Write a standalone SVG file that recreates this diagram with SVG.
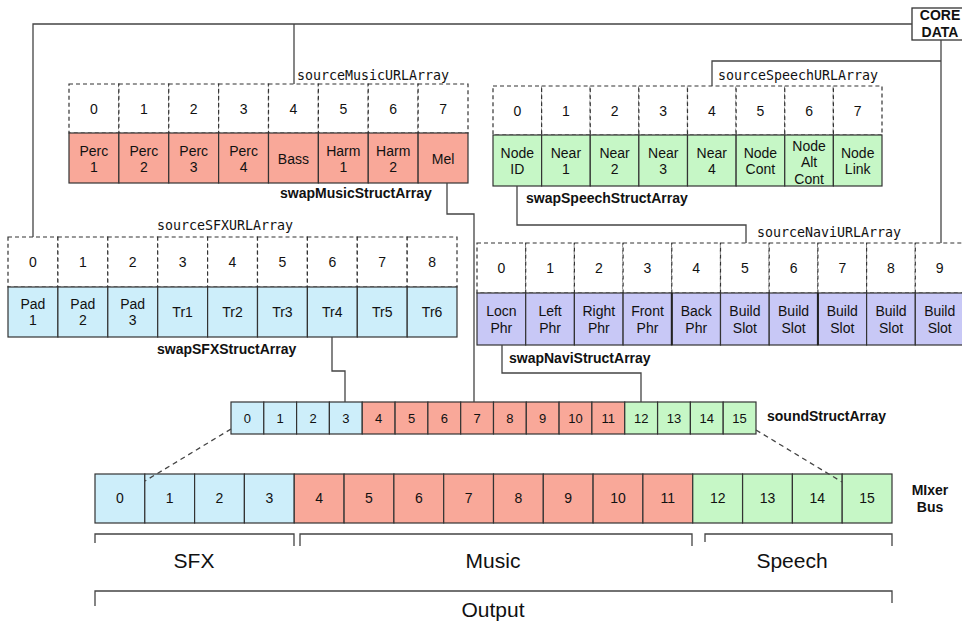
<svg xmlns="http://www.w3.org/2000/svg" width="962" height="622" viewBox="0 0 962 622">
<style>
text{font-family:"Liberation Sans",Arial,sans-serif;fill:#111;text-anchor:middle}
.c{font-size:14px}
.s{font-size:13px}
.mono{font-family:"DejaVu Sans Mono","Liberation Mono",monospace;font-size:13.3px;text-anchor:start}
.b{font-weight:bold;font-size:14px;text-anchor:start}
.big{font-size:21px}
.dash{fill:#fff;stroke:#333;stroke-width:1.2;stroke-dasharray:4 3}
.cell{stroke:#333;stroke-width:1.2}
.blue{fill:#cdeefa}
.red{fill:#f9a899}
.green{fill:#c6f7c6}
.purple{fill:#c8c8f6}
.ln{fill:none;stroke:#444;stroke-width:1.3}
</style>
<rect width="962" height="622" fill="#fff"/>

<g id="coredata">
<rect x="912" y="8" width="56" height="32" fill="#fff" stroke="#333" stroke-width="1.3"/>
<text x="940" y="20" style="font-weight:bold;font-size:14px">CORE</text>
<text x="940" y="37" style="font-weight:bold;font-size:14px">DATA</text>
</g>

<g id="sourceMusicURLArray">
<text class="mono" x="297" y="80">sourceMusicURLArray</text>
<rect class="dash" x="69" y="84" width="49.875" height="49"/>
<rect class="dash" x="118.875" y="84" width="49.875" height="49"/>
<rect class="dash" x="168.75" y="84" width="49.875" height="49"/>
<rect class="dash" x="218.625" y="84" width="49.875" height="49"/>
<rect class="dash" x="268.5" y="84" width="49.875" height="49"/>
<rect class="dash" x="318.375" y="84" width="49.875" height="49"/>
<rect class="dash" x="368.25" y="84" width="49.875" height="49"/>
<rect class="dash" x="418.125" y="84" width="49.875" height="49"/>
<text class="c" x="93.9" y="113.5">0</text>
<text class="c" x="143.8" y="113.5">1</text>
<text class="c" x="193.7" y="113.5">2</text>
<text class="c" x="243.6" y="113.5">3</text>
<text class="c" x="293.4" y="113.5">4</text>
<text class="c" x="343.3" y="113.5">5</text>
<text class="c" x="393.2" y="113.5">6</text>
<text class="c" x="443.1" y="113.5">7</text>
</g>

<g id="swapMusicStructArray">
<rect class="cell red" x="69" y="133" width="49.875" height="50"/>
<rect class="cell red" x="118.875" y="133" width="49.875" height="50"/>
<rect class="cell red" x="168.75" y="133" width="49.875" height="50"/>
<rect class="cell red" x="218.625" y="133" width="49.875" height="50"/>
<rect class="cell red" x="268.5" y="133" width="49.875" height="50"/>
<rect class="cell red" x="318.375" y="133" width="49.875" height="50"/>
<rect class="cell red" x="368.25" y="133" width="49.875" height="50"/>
<rect class="cell red" x="418.125" y="133" width="49.875" height="50"/>
<text class="c" x="93.9" y="155.5">Perc</text><text class="c" x="93.9" y="171.5">1</text>
<text class="c" x="143.8" y="155.5">Perc</text><text class="c" x="143.8" y="171.5">2</text>
<text class="c" x="193.7" y="155.5">Perc</text><text class="c" x="193.7" y="171.5">3</text>
<text class="c" x="243.6" y="155.5">Perc</text><text class="c" x="243.6" y="171.5">4</text>
<text class="c" x="293.4" y="163.5">Bass</text>
<text class="c" x="343.3" y="155.5">Harm</text><text class="c" x="343.3" y="171.5">1</text>
<text class="c" x="393.2" y="155.5">Harm</text><text class="c" x="393.2" y="171.5">2</text>
<text class="c" x="443.1" y="163.5">Mel</text>
<text class="b" x="280" y="198">swapMusicStructArray</text>
</g>

<g id="sourceSpeechURLArray">
<text class="mono" x="718" y="80">sourceSpeechURLArray</text>
<rect class="dash" x="493" y="86" width="48.625" height="49"/>
<rect class="dash" x="541.625" y="86" width="48.625" height="49"/>
<rect class="dash" x="590.25" y="86" width="48.625" height="49"/>
<rect class="dash" x="638.875" y="86" width="48.625" height="49"/>
<rect class="dash" x="687.5" y="86" width="48.625" height="49"/>
<rect class="dash" x="736.125" y="86" width="48.625" height="49"/>
<rect class="dash" x="784.75" y="86" width="48.625" height="49"/>
<rect class="dash" x="833.375" y="86" width="48.625" height="49"/>
<text class="c" x="517.3" y="115.5">0</text>
<text class="c" x="565.9" y="115.5">1</text>
<text class="c" x="614.6" y="115.5">2</text>
<text class="c" x="663.2" y="115.5">3</text>
<text class="c" x="711.8" y="115.5">4</text>
<text class="c" x="760.4" y="115.5">5</text>
<text class="c" x="809.1" y="115.5">6</text>
<text class="c" x="857.7" y="115.5">7</text>
</g>

<g id="swapSpeechStructArray">
<rect class="cell green" x="493" y="135" width="48.625" height="51"/>
<rect class="cell green" x="541.625" y="135" width="48.625" height="51"/>
<rect class="cell green" x="590.25" y="135" width="48.625" height="51"/>
<rect class="cell green" x="638.875" y="135" width="48.625" height="51"/>
<rect class="cell green" x="687.5" y="135" width="48.625" height="51"/>
<rect class="cell green" x="736.125" y="135" width="48.625" height="51"/>
<rect class="cell green" x="784.75" y="135" width="48.625" height="51"/>
<rect class="cell green" x="833.375" y="135" width="48.625" height="51"/>
<text class="c" x="517.3" y="158">Node</text><text class="c" x="517.3" y="174">ID</text>
<text class="c" x="565.9" y="158">Near</text><text class="c" x="565.9" y="174">1</text>
<text class="c" x="614.6" y="158">Near</text><text class="c" x="614.6" y="174">2</text>
<text class="c" x="663.2" y="158">Near</text><text class="c" x="663.2" y="174">3</text>
<text class="c" x="711.8" y="158">Near</text><text class="c" x="711.8" y="174">4</text>
<text class="c" x="760.4" y="158">Node</text><text class="c" x="760.4" y="174">Cont</text>
<text class="c" x="809.1" y="151">Node</text><text class="c" x="809.1" y="167">Alt</text><text class="c" x="809.1" y="184">Cont</text>
<text class="c" x="857.7" y="158">Node</text><text class="c" x="857.7" y="174">Link</text>
<text class="b" x="526" y="203">swapSpeechStructArray</text>
</g>

<g id="sourceSFXURLArray">
<text class="mono" x="157" y="230">sourceSFXURLArray</text>
<rect class="dash" x="8" y="237" width="49.9" height="50"/>
<rect class="dash" x="57.9" y="237" width="49.9" height="50"/>
<rect class="dash" x="107.8" y="237" width="49.9" height="50"/>
<rect class="dash" x="157.7" y="237" width="49.9" height="50"/>
<rect class="dash" x="207.6" y="237" width="49.9" height="50"/>
<rect class="dash" x="257.5" y="237" width="49.9" height="50"/>
<rect class="dash" x="307.4" y="237" width="49.9" height="50"/>
<rect class="dash" x="357.3" y="237" width="49.9" height="50"/>
<rect class="dash" x="407.2" y="237" width="49.8" height="50"/>
<text class="c" x="32.9" y="267">0</text>
<text class="c" x="82.8" y="267">1</text>
<text class="c" x="132.7" y="267">2</text>
<text class="c" x="182.6" y="267">3</text>
<text class="c" x="232.5" y="267">4</text>
<text class="c" x="282.4" y="267">5</text>
<text class="c" x="332.3" y="267">6</text>
<text class="c" x="382.2" y="267">7</text>
<text class="c" x="432.1" y="267">8</text>
</g>

<g id="swapSFXStructArray">
<rect class="cell blue" x="8" y="287" width="49.9" height="50"/>
<rect class="cell blue" x="57.9" y="287" width="49.9" height="50"/>
<rect class="cell blue" x="107.8" y="287" width="49.9" height="50"/>
<rect class="cell blue" x="157.7" y="287" width="49.9" height="50"/>
<rect class="cell blue" x="207.6" y="287" width="49.9" height="50"/>
<rect class="cell blue" x="257.5" y="287" width="49.9" height="50"/>
<rect class="cell blue" x="307.4" y="287" width="49.9" height="50"/>
<rect class="cell blue" x="357.3" y="287" width="49.9" height="50"/>
<rect class="cell blue" x="407.2" y="287" width="49.8" height="50"/>
<text class="c" x="32.9" y="309">Pad</text><text class="c" x="32.9" y="325">1</text>
<text class="c" x="82.8" y="309">Pad</text><text class="c" x="82.8" y="325">2</text>
<text class="c" x="132.7" y="309">Pad</text><text class="c" x="132.7" y="325">3</text>
<text class="c" x="182.6" y="317">Tr1</text>
<text class="c" x="232.5" y="317">Tr2</text>
<text class="c" x="282.4" y="317">Tr3</text>
<text class="c" x="332.3" y="317">Tr4</text>
<text class="c" x="382.2" y="317">Tr5</text>
<text class="c" x="432.1" y="317">Tr6</text>
<text class="b" x="157" y="354">swapSFXStructArray</text>
</g>

<g id="sourceNaviURLArray">
<text class="mono" x="757" y="237">sourceNaviURLArray</text>
<rect class="dash" x="477" y="243" width="48.7" height="50"/>
<rect class="dash" x="525.7" y="243" width="48.7" height="50"/>
<rect class="dash" x="574.4" y="243" width="48.7" height="50"/>
<rect class="dash" x="623.1" y="243" width="48.7" height="50"/>
<rect class="dash" x="671.8" y="243" width="48.7" height="50"/>
<rect class="dash" x="720.5" y="243" width="48.7" height="50"/>
<rect class="dash" x="769.2" y="243" width="48.7" height="50"/>
<rect class="dash" x="817.9" y="243" width="48.7" height="50"/>
<rect class="dash" x="866.6" y="243" width="48.7" height="50"/>
<rect class="dash" x="915.3" y="243" width="48.7" height="50"/>
<text class="c" x="501.4" y="273">0</text>
<text class="c" x="550.1" y="273">1</text>
<text class="c" x="598.8" y="273">2</text>
<text class="c" x="647.5" y="273">3</text>
<text class="c" x="696.2" y="273">4</text>
<text class="c" x="744.9" y="273">5</text>
<text class="c" x="793.6" y="273">6</text>
<text class="c" x="842.3" y="273">7</text>
<text class="c" x="891" y="273">8</text>
<text class="c" x="939.7" y="273">9</text>
</g>

<g id="swapNaviStructArray">
<rect class="cell purple" x="477" y="293" width="48.7" height="52"/>
<rect class="cell purple" x="525.7" y="293" width="48.7" height="52"/>
<rect class="cell purple" x="574.4" y="293" width="48.7" height="52"/>
<rect class="cell purple" x="623.1" y="293" width="48.7" height="52"/>
<rect class="cell purple" x="671.8" y="293" width="48.7" height="52"/>
<rect class="cell purple" x="720.5" y="293" width="48.7" height="52"/>
<rect class="cell purple" x="769.2" y="293" width="48.7" height="52"/>
<rect class="cell purple" x="817.9" y="293" width="48.7" height="52"/>
<rect class="cell purple" x="866.6" y="293" width="48.7" height="52"/>
<rect class="cell purple" x="915.3" y="293" width="48.7" height="52"/>
<path d="M671.8,293 V345 M817.9,293 V345" stroke="#222" stroke-width="2"/>
<text class="c" x="501.4" y="316">Locn</text><text class="c" x="501.4" y="333">Phr</text>
<text class="c" x="550.1" y="316">Left</text><text class="c" x="550.1" y="333">Phr</text>
<text class="c" x="598.8" y="316">Right</text><text class="c" x="598.8" y="333">Phr</text>
<text class="c" x="647.5" y="316">Front</text><text class="c" x="647.5" y="333">Phr</text>
<text class="c" x="696.2" y="316">Back</text><text class="c" x="696.2" y="333">Phr</text>
<text class="c" x="744.9" y="316">Build</text><text class="c" x="744.9" y="333">Slot</text>
<text class="c" x="793.6" y="316">Build</text><text class="c" x="793.6" y="333">Slot</text>
<text class="c" x="842.3" y="316">Build</text><text class="c" x="842.3" y="333">Slot</text>
<text class="c" x="891" y="316">Build</text><text class="c" x="891" y="333">Slot</text>
<text class="c" x="939.7" y="316">Build</text><text class="c" x="939.7" y="333">Slot</text>
<text class="b" x="509" y="363">swapNaviStructArray</text>
</g>

<g id="soundStructArray">
<rect class="cell blue" x="231" y="402" width="32.8" height="32"/>
<rect class="cell blue" x="263.8" y="402" width="32.8" height="32"/>
<rect class="cell blue" x="296.6" y="402" width="32.8" height="32"/>
<rect class="cell blue" x="329.4" y="402" width="32.8" height="32"/>
<rect class="cell red" x="362.25" y="402" width="32.8" height="32"/>
<rect class="cell red" x="395.1" y="402" width="32.8" height="32"/>
<rect class="cell red" x="427.9" y="402" width="32.8" height="32"/>
<rect class="cell red" x="460.7" y="402" width="32.8" height="32"/>
<rect class="cell red" x="493.5" y="402" width="32.8" height="32"/>
<rect class="cell red" x="526.3" y="402" width="32.8" height="32"/>
<rect class="cell red" x="559.1" y="402" width="32.8" height="32"/>
<rect class="cell red" x="591.9" y="402" width="32.8" height="32"/>
<rect class="cell green" x="624.75" y="402" width="32.8" height="32"/>
<rect class="cell green" x="657.6" y="402" width="32.8" height="32"/>
<rect class="cell green" x="690.4" y="402" width="32.8" height="32"/>
<rect class="cell green" x="723.2" y="402" width="32.8" height="32"/>
<text class="s" x="247.4" y="423">0</text>
<text class="s" x="280.2" y="423">1</text>
<text class="s" x="313" y="423">2</text>
<text class="s" x="345.8" y="423">3</text>
<text class="s" x="378.7" y="423">4</text>
<text class="s" x="411.5" y="423">5</text>
<text class="s" x="444.3" y="423">6</text>
<text class="s" x="477.1" y="423">7</text>
<text class="s" x="509.9" y="423">8</text>
<text class="s" x="542.7" y="423">9</text>
<text class="s" x="575.5" y="423">10</text>
<text class="s" x="608.3" y="423">11</text>
<text class="s" x="641.2" y="423">12</text>
<text class="s" x="674" y="423">13</text>
<text class="s" x="706.8" y="423">14</text>
<text class="s" x="739.6" y="423">15</text>
<text class="b" x="767" y="421">soundStructArray</text>
</g>

<g id="mixerBus">
<rect class="cell blue" x="95" y="474" width="49.8" height="49"/>
<rect class="cell blue" x="144.8" y="474" width="49.8" height="49"/>
<rect class="cell blue" x="194.6" y="474" width="49.8" height="49"/>
<rect class="cell blue" x="244.4" y="474" width="49.8" height="49"/>
<rect class="cell red" x="294.25" y="474" width="49.8" height="49"/>
<rect class="cell red" x="344.1" y="474" width="49.8" height="49"/>
<rect class="cell red" x="393.9" y="474" width="49.8" height="49"/>
<rect class="cell red" x="443.7" y="474" width="49.8" height="49"/>
<rect class="cell red" x="493.5" y="474" width="49.8" height="49"/>
<rect class="cell red" x="543.3" y="474" width="49.8" height="49"/>
<rect class="cell red" x="593.1" y="474" width="49.8" height="49"/>
<rect class="cell red" x="642.9" y="474" width="49.8" height="49"/>
<rect class="cell green" x="692.75" y="474" width="49.8" height="49"/>
<rect class="cell green" x="742.6" y="474" width="49.8" height="49"/>
<rect class="cell green" x="792.4" y="474" width="49.8" height="49"/>
<rect class="cell green" x="842.2" y="474" width="49.8" height="49"/>
<text class="c" x="119.9" y="503">0</text>
<text class="c" x="169.7" y="503">1</text>
<text class="c" x="219.5" y="503">2</text>
<text class="c" x="269.3" y="503">3</text>
<text class="c" x="319.2" y="503">4</text>
<text class="c" x="369" y="503">5</text>
<text class="c" x="418.8" y="503">6</text>
<text class="c" x="468.6" y="503">7</text>
<text class="c" x="518.4" y="503">8</text>
<text class="c" x="568.2" y="503">9</text>
<text class="c" x="618" y="503">10</text>
<text class="c" x="667.8" y="503">11</text>
<text class="c" x="717.7" y="503">12</text>
<text class="c" x="767.5" y="503">13</text>
<text class="c" x="817.3" y="503">14</text>
<text class="c" x="867.1" y="503">15</text>
<text x="930" y="495" style="font-weight:bold;font-size:14px">MIxer</text>
<text x="930" y="512" style="font-weight:bold;font-size:14px">Bus</text>
</g>

<g id="groups">
<path class="ln" d="M95,543 V534 H294 V546"/>
<path class="ln" d="M300,546 V534 H692 V546"/>
<path class="ln" d="M705,542 V534 H892 V546"/>
<path class="ln" d="M95,606 V591 H892 V603"/>
<text class="big" x="194" y="568">SFX</text>
<text class="big" x="493" y="568">Music</text>
<text class="big" x="792" y="568">Speech</text>
<text class="big" x="493" y="617">Output</text>
</g>

<g id="connectors">
<path class="ln" d="M33,237 V24 H912"/>
<path class="ln" d="M294,24 V84"/>
<path class="ln" d="M941,40 V243"/>
<path class="ln" d="M712,86 V61 H941"/>
<path class="ln" d="M447,183 V214 H474 V402"/>
<path class="ln" d="M517,186 V225 H746 V243"/>
<path class="ln" d="M502,345 V373 H641 V402"/>
<path class="ln" d="M332,337 V371 H345 V402"/>
<path class="ln" d="M231,429 L145,481" stroke-dasharray="5 4"/>
<path class="ln" d="M756,430 L842,482" stroke-dasharray="5 4"/>
</g>
</svg>
